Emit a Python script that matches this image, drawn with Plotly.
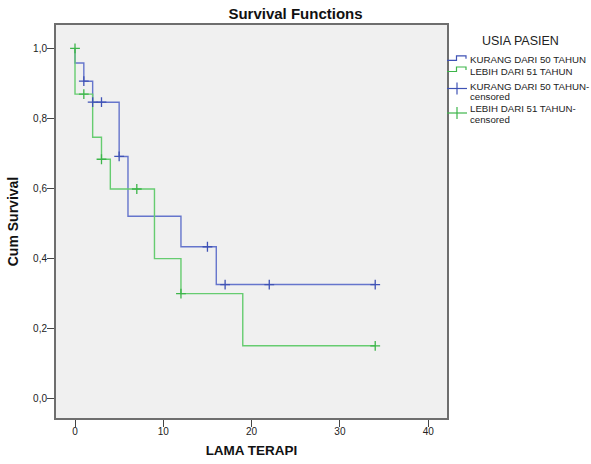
import plotly.graph_objects as go

# Kaplan-Meier step data
t_kurang = [0, 0, 1, 2, 5, 6, 12, 16, 34]
s_kurang = [1.0, 0.958, 0.906, 0.846, 0.691, 0.520, 0.433, 0.325, 0.325]
t_lebih = [0, 0, 2, 3, 4, 9, 12, 19, 34]
s_lebih = [1.0, 0.869, 0.746, 0.683, 0.598, 0.399, 0.299, 0.150, 0.150]

# censored observations
tc_kurang = [1, 2, 3, 5, 15, 17, 22, 34]
sc_kurang = [0.906, 0.846, 0.846, 0.691, 0.433, 0.325, 0.325, 0.325]
tc_lebih = [0, 1, 3, 7, 12, 34]
sc_lebih = [1.0, 0.869, 0.683, 0.598, 0.299, 0.150]

x_ticks = [0, 10, 20, 30, 40]
y_ticks = [0.0, 0.2, 0.4, 0.6, 0.8, 1.0]
y_labels = ["0,0", "0,2", "0,4", "0,6", "0,8", "1,0"]

BLUE = "#6575CC"
BLUE_D = "#3F52B5"
GREEN = "#66CC70"
GREEN_D = "#3DB54A"
FONT = "Arial, Liberation Sans, sans-serif"

fig = go.Figure()
fig.add_trace(go.Scatter(x=t_kurang, y=s_kurang, mode="lines", line_shape="hv",
                         line=dict(color=BLUE, width=1.4), name="KURANG DARI 50 TAHUN"))
fig.add_trace(go.Scatter(x=t_lebih, y=s_lebih, mode="lines", line_shape="hv",
                         line=dict(color=GREEN, width=1.4), name="LEBIH DARI 51 TAHUN"))
fig.add_trace(go.Scatter(x=tc_kurang, y=sc_kurang, mode="markers",
                         marker=dict(symbol="cross-thin", size=7, line=dict(color=BLUE_D, width=1.3)),
                         name="KURANG DARI 50 TAHUN-censored"))
fig.add_trace(go.Scatter(x=tc_lebih, y=sc_lebih, mode="markers",
                         marker=dict(symbol="cross-thin", size=7, line=dict(color=GREEN_D, width=1.3)),
                         name="LEBIH DARI 51 TAHUN-censored"))

W, H = 591, 464
L, R, T = 56, 144, 25
PLOT_BOTTOM = 418
B = H - PLOT_BOTTOM
pw, ph = W - L - R, H - T - B

def px(x):
    return (x - L) / pw

def py(y):
    return (H - B - y) / ph

shapes = []
annotations = []

# custom legend
annotations.append(dict(xref="paper", yref="paper", x=px(520), y=py(41), text="USIA PASIEN",
                        showarrow=False, xanchor="center", yanchor="middle",
                        font=dict(family=FONT, size=12.5, color="#222")))

def step_sym(yc, color):
    path = (f"M{px(447)},{py(yc)} L{px(456.5)},{py(yc)} L{px(456.5)},{py(yc-4.5)} "
            f"L{px(466)},{py(yc-4.5)} L{px(466)},{py(yc-1.5)}")
    shapes.append(dict(type="path", xref="paper", yref="paper", path=path,
                       line=dict(color=color, width=1.2)))

def cross_sym(yc, color):
    shapes.append(dict(type="line", xref="paper", yref="paper", x0=px(447), x1=px(467),
                       y0=py(yc), y1=py(yc), line=dict(color=color, width=1.2)))
    shapes.append(dict(type="line", xref="paper", yref="paper", x0=px(457), x1=px(457),
                       y0=py(yc - 6), y1=py(yc + 6), line=dict(color=color, width=1.2)))

step_sym(60.3, BLUE_D)
step_sym(71.5, GREEN_D)
cross_sym(88.5, BLUE_D)
cross_sym(113, GREEN_D)

legend_texts = [
    (59.5, "KURANG DARI 50 TAHUN"),
    (71, "LEBIH DARI 51 TAHUN"),
    (86, "KURANG DARI 50 TAHUN-"),
    (96.5, "censored"),
    (108.5, "LEBIH DARI 51 TAHUN-"),
    (119, "censored"),
]
for yc, txt in legend_texts:
    annotations.append(dict(xref="paper", yref="paper", x=px(468), y=py(yc), text=txt,
                            showarrow=False, xanchor="left", yanchor="middle",
                            font=dict(family=FONT, size=9.7, color="#222")))

fig.update_layout(
    width=W, height=H,
    margin=dict(l=L, r=R, t=T, b=B, pad=0, autoexpand=False),
    paper_bgcolor="white",
    plot_bgcolor="#F0F0F0",
    showlegend=False,
    title=dict(text="<b>Survival Functions</b>", x=0.5, xanchor="center",
               y=1 - 13.5 / H, yanchor="middle", font=dict(family=FONT, size=15, color="#111")),
    shapes=shapes,
    annotations=annotations,
)
fig.update_xaxes(range=[-2.152, 42.13], tickvals=x_ticks, ticks="outside", ticklen=7,
                 tickcolor="#444", tickwidth=1.2, showgrid=False, zeroline=False, showline=True,
                 mirror=True, linecolor="#6E6E6E", linewidth=2, automargin=False,
                 ticklabelstandoff=-4,
                 tickfont=dict(family=FONT, size=10, color="#222"),
                 title=dict(text="<b>LAMA TERAPI</b>", standoff=10,
                            font=dict(family=FONT, size=13.5, color="#111")))
fig.update_yaxes(range=[-0.0563, 1.0666], tickvals=y_ticks, ticktext=y_labels, ticks="outside",
                 ticklen=7, tickcolor="#444", tickwidth=1.2, showgrid=False, zeroline=False,
                 showline=True, mirror=True, linecolor="#6E6E6E", linewidth=2, automargin=False,
                 ticklabelstandoff=-2,
                 tickfont=dict(family=FONT, size=10, color="#222"),
                 title=dict(text="<b>Cum Survival</b>", standoff=11,
                            font=dict(family=FONT, size=14, color="#111")))

fig.write_html("out.html")
